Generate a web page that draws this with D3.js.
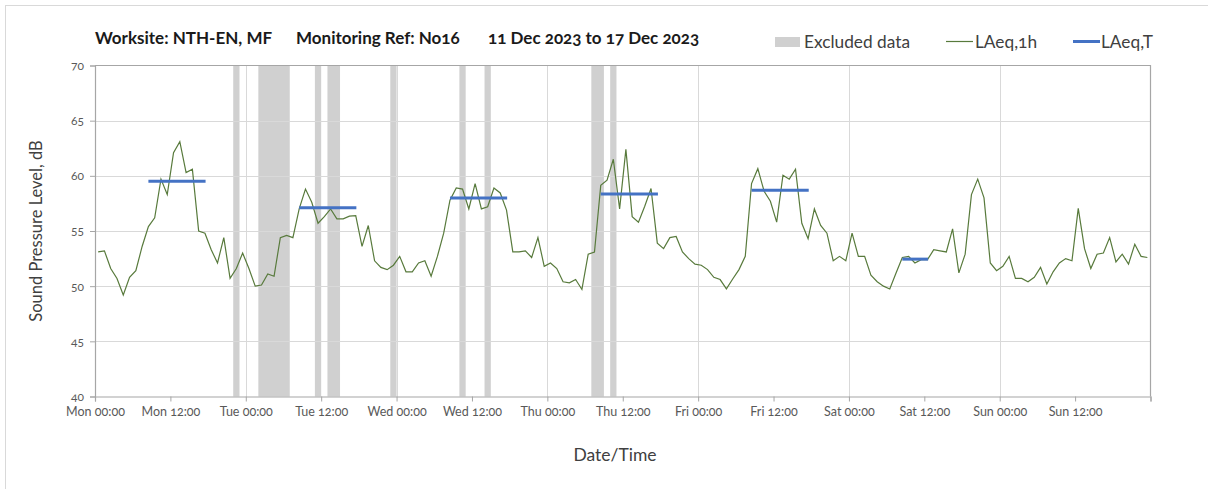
<!DOCTYPE html>
<html>
<head>
<meta charset="utf-8">
<script src="https://cdn.jsdelivr.net/npm/d3@7/dist/d3.min.js"></script>
<style>
  html, body { margin: 0; padding: 0; background: #ffffff; }
  svg { display: block; font-family: Lato, "Open Sans", sans-serif; }
  .num { font-variant-numeric: oldstyle-nums; font-feature-settings: "onum" 1; }
</style>
</head>
<body>
<svg id="chart" width="1208" height="489"></svg>
<script>
// ---------- data ----------
const hours = d3.range(0, 168);                 // hourly samples, Mon 00:00 .. Sun 23:00
const laeq1h = [
  53.1, 53.2, 51.6, 50.7, 49.2, 50.8, 51.4, 53.6, 55.4, 56.2, 59.7, 58.3,
  62.1, 63.1, 60.3, 60.6, 55.0, 54.8, 53.3, 52.1, 54.4, 50.7, 51.6, 53.0,
  51.6, 50.0, 50.1, 51.1, 50.9, 54.4, 54.6, 54.4, 57.0, 58.8, 57.6, 55.7,
  56.3, 57.0, 56.1, 56.1, 56.35, 56.4, 53.6, 55.5, 52.3, 51.7, 51.5, 51.9,
  52.7, 51.3, 51.3, 52.1, 52.3, 50.9, 52.7, 54.8, 57.8, 58.9, 58.8, 57.0,
  59.3, 57.0, 57.2, 58.9, 58.45, 56.9, 53.1, 53.1, 53.2, 52.6, 54.4, 51.8,
  52.1, 51.6, 50.4, 50.3, 50.6, 49.7, 52.9, 53.1, 59.15, 59.6, 61.5, 57.0,
  62.4, 56.3, 55.8, 57.25, 58.85, 53.9, 53.4, 54.4, 54.5, 53.1, 52.5, 52.0,
  51.9, 51.5, 50.8, 50.6, 49.75, 50.65, 51.5, 52.7, 59.3, 60.65, 58.6, 57.7,
  55.8, 60.05, 59.7, 60.6, 55.7, 54.3, 57.0, 55.5, 54.8, 52.3, 52.7, 52.3,
  54.8, 52.7, 52.7, 51.0, 50.4, 50.0, 49.75, 51.2, 52.6, 52.7, 52.1, 52.4,
  52.4, 53.3, 53.2, 53.1, 55.2, 51.2, 52.9, 58.3, 59.7, 58.0, 52.1, 51.4,
  51.8, 52.7, 50.7, 50.7, 50.4, 50.8, 51.7, 50.2, 51.3, 52.1, 52.5, 52.3,
  57.05, 53.4, 51.6, 52.9, 53.0, 54.4, 52.2, 52.9, 52.0, 53.8, 52.7, 52.6
];
const excludedHours = [22, 26, 27, 28, 29, 30, 35, 37, 38, 47, 58, 62, 79, 80, 82];
const periodStart = [8.5, 32.5, 56.5, 80.5, 104.5, 128.5];
const periodEnd   = [17.6, 41.6, 65.6, 89.6, 113.6, 132.6];
const laeqT       = [59.5, 57.1, 58.0, 58.35, 58.7, 52.45];
const tickLabels = ["Mon 00:00", "Mon 12:00", "Tue 00:00", "Tue 12:00", "Wed 00:00", "Wed 12:00",
                    "Thu 00:00", "Thu 12:00", "Fri 00:00", "Fri 12:00", "Sat 00:00", "Sat 12:00",
                    "Sun 00:00", "Sun 12:00", ""];
const yTicks = [40, 45, 50, 55, 60, 65, 70];
const legendLabels = ["Excluded data", "LAeq,1h", "LAeq,T"];
const titleParts = ["Worksite: NTH-EN, MF", "Monitoring Ref: No16", "11 Dec 2023 to 17 Dec 2023"];

// ---------- layout ----------
const svg = d3.select("#chart");
const L = 95, R = 1150.5, T = 65.5, B = 396.5;
const x = d3.scaleLinear().domain([0, 168]).range([L, R]);
const y = d3.scaleLinear().domain([40, 70]).range([B, T]);
const GREEN = "#587a3c", BLUE = "#4472c4", GREY = "#d0d0d0";

// outer chart border
svg.append("rect").attr("x", 5.5).attr("y", 5.5).attr("width", 1220).attr("height", 500)
  .attr("fill", "none").attr("stroke", "#d9d9d9");

// excluded bars (contiguous hours merged into runs)
const runs = [];
excludedHours.forEach(h => {
  const last = runs[runs.length - 1];
  if (last && last[1] === h) last[1] = h + 1; else runs.push([h, h + 1]);
});
svg.append("g").selectAll("rect").data(runs).join("rect")
  .attr("x", d => x(d[0])).attr("width", d => x(d[1]) - x(d[0]))
  .attr("y", y(70)).attr("height", y(40) - y(70))
  .attr("fill", GREY);

// gridlines
const grid = svg.append("g").attr("stroke", "#d9d9d9").attr("stroke-width", 1);
grid.selectAll(".hg").data([45, 50, 55, 60, 65]).join("line")
  .attr("x1", L).attr("x2", R).attr("y1", d => Math.round(y(d)) + 0.5).attr("y2", d => Math.round(y(d)) + 0.5);
grid.selectAll(".vg").data([24, 48, 72, 96, 120, 144]).join("line")
  .attr("y1", T).attr("y2", B).attr("x1", d => Math.round(x(d)) + 0.5).attr("x2", d => Math.round(x(d)) + 0.5);

// plot border (top/right)
svg.append("path")
  .attr("d", `M${L},${T}H${R}V${B}`)
  .attr("fill", "none").attr("stroke", "#a6a6a6").attr("stroke-width", 1.2);

// axes
const xAxis = d3.axisBottom(x).tickValues(d3.range(0, 169, 12))
  .tickFormat((d, i) => tickLabels[i]).tickSize(5).tickPadding(6);
const gx = svg.append("g").attr("transform", `translate(0,${B})`).call(xAxis);
gx.select(".domain").attr("stroke", "#a6a6a6").attr("stroke-width", 1.2);
gx.selectAll(".tick line").attr("stroke", "#a6a6a6");
gx.selectAll("text").attr("fill", "#595959").attr("font-size", 12.5)
  .attr("font-family", "Lato, sans-serif").attr("class", "num");

const yAxis = d3.axisLeft(y).tickValues(yTicks).tickSize(5).tickPadding(6);
const gy = svg.append("g").attr("transform", `translate(${L},0)`).call(yAxis);
gy.select(".domain").attr("stroke", "#a6a6a6").attr("stroke-width", 1.2);
gy.selectAll(".tick line").attr("stroke", "#a6a6a6");
gy.selectAll("text").attr("fill", "#595959").attr("font-size", 12)
  .attr("font-family", "Lato, sans-serif").attr("class", "num");

// LAeq,1h line
const line = d3.line().x(d => x(d.h + 0.5)).y(d => y(d.v));
svg.append("path")
  .datum(hours.map((h, i) => ({ h: h, v: laeq1h[i] })))
  .attr("d", line).attr("fill", "none").attr("stroke", GREEN).attr("stroke-width", 1.2)
  .attr("stroke-linejoin", "miter");

// LAeq,T segments
svg.append("g").selectAll("line").data(laeqT).join("line")
  .attr("x1", (d, i) => x(periodStart[i])).attr("x2", (d, i) => x(periodEnd[i]))
  .attr("y1", d => y(d)).attr("y2", d => y(d))
  .attr("stroke", BLUE).attr("stroke-width", 3);

// title
const titleX = [95, 296, 488];
titleParts.forEach((t, i) => {
  svg.append("text").attr("x", titleX[i]).attr("y", 44).attr("font-size", 17)
    .attr("font-weight", "bold").attr("fill", "#1a1a1a").attr("class", "num").text(t);
});

// legend
const lg = svg.append("g").attr("font-size", 17.3).attr("fill", "#404040");
lg.append("rect").attr("x", 775).attr("y", 37).attr("width", 25).attr("height", 10).attr("fill", GREY);
lg.append("text").attr("x", 804).attr("y", 48).text(legendLabels[0]);
lg.append("line").attr("x1", 946).attr("x2", 973).attr("y1", 41.5).attr("y2", 41.5)
  .attr("stroke", GREEN).attr("stroke-width", 1.2);
lg.append("text").attr("x", 975).attr("y", 48).attr("class", "num").text(legendLabels[1]);
lg.append("line").attr("x1", 1073).attr("x2", 1100).attr("y1", 41.5).attr("y2", 41.5)
  .attr("stroke", BLUE).attr("stroke-width", 3);
lg.append("text").attr("x", 1101).attr("y", 48).text(legendLabels[2]);

// axis titles
svg.append("text").attr("transform", "translate(42,231) rotate(-90)").attr("text-anchor", "middle")
  .attr("font-size", 16.5).attr("fill", "#404040").text("Sound Pressure Level, dB");
svg.append("text").attr("x", 615).attr("y", 461).attr("text-anchor", "middle")
  .attr("font-size", 17.5).attr("fill", "#404040").text("Date/Time");
</script>
</body>
</html>
